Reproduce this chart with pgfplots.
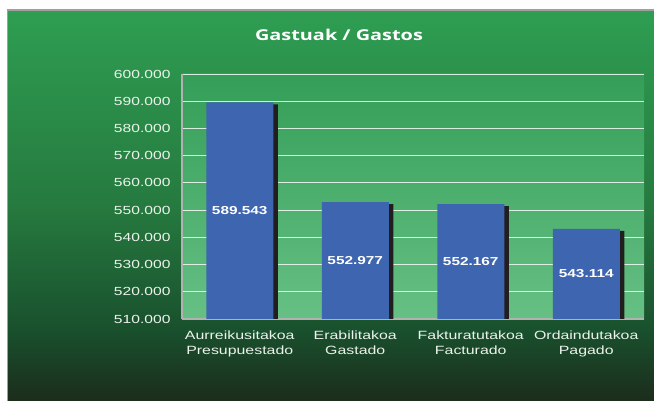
\documentclass[border=0pt]{standalone}
\usepackage{pgfplots}
\pgfplotsset{compat=1.18}
\usepackage{fontspec}
\setmainfont{Liberation Sans}[FakeStretch=1.33]
\newfontfamily\titlefont{Open Sans}[FakeStretch=1.33]
\definecolor{bgtop}{RGB}{46,158,82}
\definecolor{bgmid}{RGB}{38,122,63}
\definecolor{bgmidb}{RGB}{25,80,45}
\definecolor{bgbot}{RGB}{28,44,28}
\definecolor{patop}{RGB}{52,158,88}
\definecolor{pabot}{RGB}{102,192,132}
\definecolor{barblue}{RGB}{62,101,176}
\definecolor{shadowc}{RGB}{34,30,32}
\definecolor{ticktxt}{RGB}{236,243,236}
\pgfdeclareverticalshading{outerbg}{100bp}{color(0bp)=(bgbot); color(25bp)=(bgbot); color(34bp)=(bgmidb); color(50bp)=(bgmid); color(75bp)=(bgtop); color(100bp)=(bgtop)}
\begin{document}
\begin{tikzpicture}
\useasboundingbox (0bp,0bp) rectangle (654bp,401bp);
\fill[white] (0bp,0bp) rectangle (654bp,401bp);
\shade[shading=outerbg] (7.5bp,0bp) rectangle (654bp,391bp);
\draw[gray!75, line width=1.5bp] (7.5bp,0bp) -- (7.5bp,391bp) -- (654bp,391bp);
\node[text=white, font=\titlefont\bfseries\fontsize{15}{18}\selectfont] at (339bp,366bp) {Gastuak / Gastos};
\begin{axis}[
  at={(182bp,82bp)}, anchor=south west, scale only axis,
  width=462bp, height=245bp,
  xmin=-0.5, xmax=3.5, ymin=510, ymax=600,
  ytick={510,520,...,600},
  xtick={0,1,2,3},
  xticklabels={Aurreikusitakoa\\Presupuestado, Erabilitakoa\\Gastado, Fakturatutakoa\\Facturado, Ordaindutakoa\\Pagado},
  xticklabel style={align=center, text=ticktxt, font=\fontsize{12}{15}\selectfont, yshift=-8bp},
  yticklabel style={text=ticktxt, font=\fontsize{11.8}{14}\selectfont, xshift=-8bp,
     /pgf/number format/.cd, fixed, fixed zerofill, precision=3, use period},
  /pgf/number format/assume math mode=true,
  major tick length=0pt,
  ymajorgrids, grid style={white, opacity=0.8, line width=0.9bp},
  axis x line*=bottom, axis y line*=left,
  axis line style={gray!60, line width=1.2bp},
  axis background/.style={shade, top color=patop, bottom color=pabot},
  ybar, bar width=67bp,
]
\addplot[fill=shadowc, draw=none, bar shift=4.5bp, yshift=-2bp]
  coordinates {(0,589.543) (1,552.977) (2,552.167) (3,543.114)};
\addplot[fill=barblue, draw=none, bar shift=0bp,
  nodes near coords={\pgfmathprintnumber[fixed,fixed zerofill,precision=3,use period]{\pgfplotspointmeta}},
  visualization depends on=rawy \as \ry,
  every node near coord/.append style={anchor=center, text=white,
     font=\bfseries\fontsize{11.6}{14}\selectfont,
     shift={(axis direction cs:0,{-(\ry-510)/2})}}]
  coordinates {(0,589.543) (1,552.977) (2,552.167) (3,543.114)};
\end{axis}
\end{tikzpicture}
\end{document}
